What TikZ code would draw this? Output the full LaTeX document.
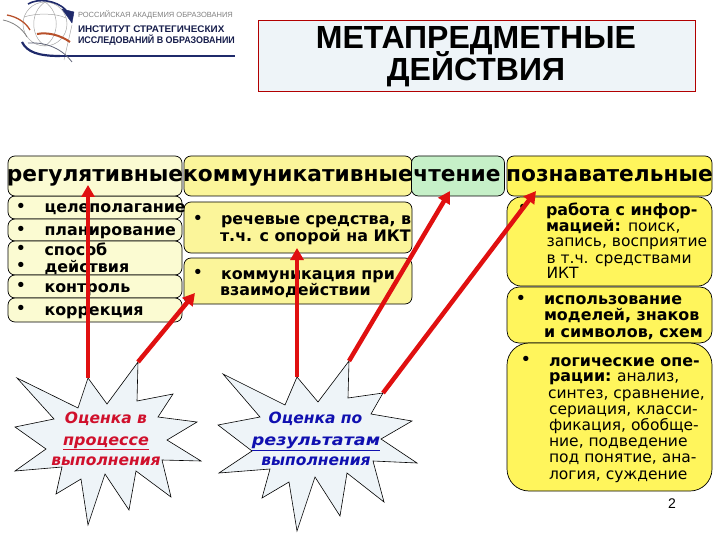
\documentclass[tikz,border=0pt]{standalone}
\usepackage{fontspec}
\usepackage{graphicx}
\setmainfont{DejaVu Sans}
\newfontfamily\arialf{Liberation Sans}
\usetikzlibrary{arrows.meta}
\definecolor{navy}{HTML}{1F2A6B}
\definecolor{redl}{HTML}{E01010}
\definecolor{pale}{HTML}{FBFBD2}
\definecolor{midy}{HTML}{FBF59A}
\definecolor{stry}{HTML}{FFF55C}
\definecolor{grn}{HTML}{C6F0C8}
\definecolor{icey}{HTML}{EEF4F8}
\definecolor{crim}{HTML}{D0102C}
\definecolor{blu}{HTML}{1010B0}
\definecolor{rust}{HTML}{B8502A}
\tikzset{
 x=1pt,y=-1pt,
 rbox/.style={draw=black,line width=0.7pt,rounded corners=7pt,inner sep=0pt,outer sep=0pt,align=center},
 hdrtext/.style={anchor=base,inner sep=0pt,outer sep=0pt,font=\fontsize{21.7}{21.7}\selectfont\bfseries},
 tb/.style={anchor=base west,inner sep=0pt,outer sep=0pt,font=\fontsize{15.9}{15.9}\selectfont\bfseries},
 tr/.style={anchor=base west,inner sep=0pt,outer sep=0pt,font=\fontsize{15.5}{15.5}\selectfont},
 bul/.style={inner sep=0pt,outer sep=0pt,font=\fontsize{15}{15}\selectfont\bfseries},
 star/.style={draw=black,line width=0.6pt,fill=icey,line join=miter},
 arr/.style={draw=redl,line width=4.5pt,-{Triangle[length=12pt,width=13pt]}},
 st/.style={inner sep=0pt,outer sep=0pt,anchor=base,font=\fontsize{15.5}{15.5}\selectfont\bfseries\itshape},
 logo/.style={anchor=base west,inner sep=0pt,outer sep=0pt,font=\arialf\bfseries},
 globe/.style={draw=gray!70,line width=0.5pt},
}
\begin{document}
\begin{tikzpicture}
\useasboundingbox (0,0) rectangle (720,540);
% logo
\draw[globe] (45,24) circle (22);
\draw[globe] (45,2) .. controls (30,12) and (30,36) .. (45,46);
\draw[globe] (45,2) .. controls (60,12) and (60,36) .. (45,46);
\draw[globe] (24,17) .. controls (36,13) and (56,13) .. (66,18);
\draw[globe] (72,25) -- (64,60);
\draw[navy,line width=1.6pt] (28,4) .. controls (38,-2) and (56,0) .. (66,10);
\draw[navy,fill=navy] (62,9) -- (74,12) -- (72,23) -- cycle;
\draw[navy,line width=2.2pt] (22,42) .. controls (27,52) and (38,56) .. (60,56);
\draw[navy,line width=2.5pt] (60,56) -- (235,56);
\draw[rust,line width=1.3pt] (7,15) .. controls (18,17) and (26,23) .. (30,30);
\draw[gray,line width=0.8pt] (3,20) .. controls (13,22) and (22,28) .. (27,37);
\draw[rust,line width=2pt] (37,34) .. controls (48,32) and (60,35) .. (70,42);
\draw[gray!70!navy,line width=0.8pt] (28,43) .. controls (42,42) and (60,46) .. (72,62);
\node[logo,text=gray,font=\arialf\fontsize{7.5}{8}\selectfont] (lg1) at (78,18) {РОССИЙСКАЯ АКАДЕМИЯ ОБРАЗОВАНИЯ};
\node[logo,text=navy!70!black,font=\arialf\bfseries\fontsize{9.6}{10}\selectfont] (lg2) at (78,33) {\scalebox{1.03}[1]{ИНСТИТУТ СТРАТЕГИЧЕСКИХ}};
\node[logo,text=navy!70!black,font=\arialf\bfseries\fontsize{9.6}{10}\selectfont] (lg3) at (78,44) {\scalebox{0.93}[1]{ИССЛЕДОВАНИЙ В ОБРАЗОВАНИИ}};
% title
\node[draw=red!70!black,fill=icey,line width=0.6pt,minimum width=437pt,minimum height=71pt,inner sep=0pt] (titlebox) at (476.5,55.5) {};
\node[anchor=base,inner sep=0pt,font=\arialf\bfseries\fontsize{32}{32}\selectfont] (t1) at (476,49) {МЕТАПРЕДМЕТНЫЕ};
\node[anchor=base,inner sep=0pt,font=\arialf\bfseries\fontsize{32}{32}\selectfont] (t2) at (476,81) {ДЕЙСТВИЯ};
% left list boxes
\node[rbox,fill=pale,minimum width=174pt,minimum height=23pt] (l1) at (95,207.5) {};
\node[rbox,fill=pale,minimum width=174pt,minimum height=22pt] (l2) at (95,230) {};
\node[rbox,fill=pale,minimum width=174pt,minimum height=34pt] (l3) at (95,258) {};
\node[rbox,fill=pale,minimum width=174pt,minimum height=23pt] (l4) at (95,286.5) {};
\node[rbox,fill=pale,minimum width=174pt,minimum height=24pt] (l5) at (95,310) {};
% headers
\node[rbox,fill=pale,minimum width=174pt,minimum height=40pt] (reg) at (95,176) {};
\node[rbox,fill=midy,minimum width=228pt,minimum height=40pt] (kom) at (298,176) {};
\node[rbox,fill=grn,minimum width=93pt,minimum height=40pt] (cht) at (458,176) {};
\node[rbox,fill=stry,minimum width=205pt,minimum height=40pt] (poz) at (609.5,176) {};
\node[hdrtext] (regt) at (95,182) {регулятивные};
\node[hdrtext] (komt) at (298,182) {коммуникативные};
\node[hdrtext] (chtt) at (457,182) {чтение};
\node[hdrtext] (pozt) at (609.5,182) {познавательные};
% middle boxes
\node[rbox,fill=midy,minimum width=228pt,minimum height=51pt] (m1) at (298,227.5) {};
\node[rbox,fill=midy,minimum width=228pt,minimum height=46pt] (m2) at (298,281) {};
% right boxes
\node[rbox,fill=stry,rounded corners=14pt,minimum width=205pt,minimum height=89pt] (r1) at (609.5,241.5) {};
\node[rbox,fill=stry,rounded corners=12pt,minimum width=205pt,minimum height=56pt] (r2) at (609.5,315) {};
\node[rbox,fill=stry,rounded corners=22pt,minimum width=205pt,minimum height=148pt] (r3) at (609.5,417) {};
% left text
\node[bul] (b1) at (21,207) {•};
\node[bul] (b2) at (21,230) {•};
\node[bul] (b3) at (21,249) {•};
\node[bul] (b4) at (21,266) {•};
\node[bul] (b5) at (21,286) {•};
\node[bul] (b6) at (21,309) {•};
\node[tb] (x1) at (44.5,213) {целеполагание};
\node[tb] (x2) at (44.5,236) {планирование};
\node[tb] (x3) at (44.5,255) {способ};
\node[tb] (x4) at (44.5,272) {действия};
\node[tb] (x5) at (44.5,292) {контроль};
\node[tb] (x6) at (44.5,315) {коррекция};
% middle text
\node[bul] (b7) at (198,219) {•};
\node[bul] (b8) at (198,273) {•};
\node[tb] (y1) at (221,225) {речевые средства, в};
\node[tb] (y2) at (220,241) {т.ч. с опорой на ИКТ};
\node[tb] (y3) at (221,279) {коммуникация при};
\node[tb] (y4) at (220,295) {взаимодействии};
% right text
\node[bul] (b9) at (523,208) {•};
\node[tb] (z1) at (546,215) {работа с инфор-};
\node[tb] (z2) at (546,231) {мацией:};
\node[tr] (z2b) at (628,231) {поиск,};
\node[tr] (z3) at (546.5,247) {запись, восприятие};
\node[tr] (z4) at (546.5,263) {в т.ч. средствами};
\node[tr] (z5) at (546.5,278) {ИКТ};
\node[bul] (b10) at (521,299) {•};
\node[tb] (w1) at (544,304) {использование};
\node[tb] (w2) at (544,320) {моделей, знаков};
\node[tb] (w3) at (544,337) {и символов, схем};
\node[bul] (b11) at (526,360) {•};
\node[tb] (v1) at (549,366) {логические опе-};
\node[tb] (v2) at (549,381) {рации:};
\node[tr] (v2b) at (617,381) {анализ,};
\node[tr] (v3) at (548,398) {синтез, сравнение,};
\node[tr] (v4) at (549,414) {сериация, класси-};
\node[tr] (v5) at (549,430) {фикация, обобще-};
\node[tr] (v6) at (549,446) {ние, подведение};
\node[tr] (v7) at (549,462) {под понятие, ана-};
\node[tr] (v8) at (549,479) {логия, суждение};
\node[anchor=base,inner sep=0pt,font=\arialf\fontsize{14}{14}\selectfont] (pg) at (672,508) {2};
% star coordinates for connector ends
\coordinate (s1a) at (88,378);
\coordinate (s1b) at (138,362);
\coordinate (s2a) at (297,377);
\coordinate (s2b) at (349,361);
\coordinate (s2c) at (383,393);
\coordinate (e1) at (88,185);
\coordinate (e2) at (195,293);
\coordinate (e3) at (297,248);
\coordinate (e4) at (450,191);
\coordinate (e5) at (536,191);
% stars
\draw[star] (s1a) -- (107,404) -- (s1b) -- (137,401) -- (173,394) -- (158,417) -- (197,422) -- (167,440) -- (201,461) -- (162,460) -- (171,497) -- (136,471) -- (129,510) -- (105,474) -- (88,525) -- (81,479) -- (56,494) -- (62,467) -- (15,471) -- (46,449) -- (15,427) -- (54,419) -- (17,378) -- (78,408) -- cycle;
\draw[star] (s2a) -- (318,402) -- (s2b) -- (348,398) -- (s2c) -- (371,414) -- (412,421) -- (381,439) -- (417,463) -- (373,461) -- (384,502) -- (347,473) -- (340,516) -- (315,477) -- (297,531) -- (289,482) -- (262,498) -- (270,469) -- (219,473) -- (252,451) -- (218,425) -- (260,417) -- (223,374) -- (285,405) -- cycle;
% arrows
\draw[arr] (s1a) -- (e1);
\draw[arr] (s1b) -- (e2);
\draw[arr] (s2a) -- (e3);
\draw[arr] (s2b) -- (e4);
\draw[arr] (s2c) -- (e5);
% star text
\node[st,text=crim] (p1) at (106,423) {Оценка в};
\node[st,text=crim] (p2) at (106,445) {\underline{\scalebox{1.03}[1]{процессе}}};
\node[st,text=crim] (p3) at (106,465) {выполнения};
\node[st,text=blu] (q1) at (315.5,423) {Оценка по};
\node[st,text=blu] (q2) at (316,445) {\underline{\scalebox{1.13}[1]{результатам}}};
\node[st,text=blu] (q3) at (316,465) {выполнения};
\end{tikzpicture}
\end{document}
